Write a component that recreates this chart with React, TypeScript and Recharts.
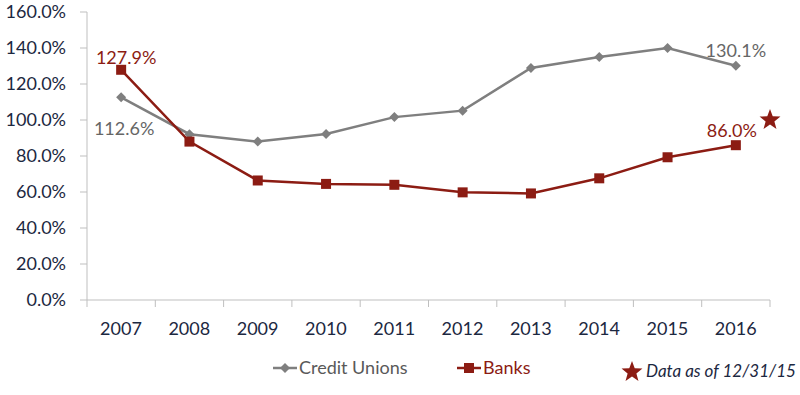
import { ComposedChart, Line, Scatter, XAxis, YAxis, LabelList } from 'recharts';

const years = [2007, 2008, 2009, 2010, 2011, 2012, 2013, 2014, 2015, 2016];
const creditUnions = [112.6, 92.1, 88.0, 92.2, 101.6, 105.2, 128.9, 135.0, 140.0, 130.1];
const banks = [127.9, 88.0, 66.4, 64.5, 64.0, 59.8, 59.2, 67.6, 79.3, 86.0];
const yTicks = [0, 20, 40, 60, 80, 100, 120, 140, 160];
// band edges for the x axis tick marks
const xEdges = [2006.5, 2007.5, 2008.5, 2009.5, 2010.5, 2011.5, 2012.5, 2013.5, 2014.5, 2015.5, 2016.5];
const starPoint = [{ year: 2016.5, value: 100 }];

const GRAY = '#7f7f7f';
const RED = '#8c1c13';
const NAVY = '#1c2841';
const FONT = 'Lato, "Open Sans", sans-serif';

const data = years.map((y, i) => ({ year: y, cu: creditUnions[i], banks: banks[i] }));

function starPath(cx: number, cy: number, r: number) {
  const pts: string[] = [];
  for (let i = 0; i < 10; i++) {
    const rad = i % 2 === 0 ? r : r * 0.42;
    const a = -Math.PI / 2 + (i * Math.PI) / 5;
    pts.push(`${cx + rad * Math.cos(a)},${cy + rad * Math.sin(a)}`);
  }
  return 'M' + pts.join('L') + 'Z';
}

const Diamond = (props: any) => {
  const { cx, cy } = props;
  if (cx == null) return null;
  return <path d={`M${cx},${cy - 5}L${cx + 5},${cy}L${cx},${cy + 5}L${cx - 5},${cy}Z`} fill={GRAY} />;
};

const Square = (props: any) => {
  const { cx, cy } = props;
  if (cx == null) return null;
  return <rect x={cx - 5} y={cy - 5} width={10} height={10} fill={RED} />;
};

const Star = (props: any) => {
  const { cx, cy } = props;
  return <path d={starPath(cx, cy, 11)} fill={RED} />;
};

// only first and last points are labelled
const makeLabel = (color: string, first: [number, number], last: [number, number]) => (props: any) => {
  const { x, y, index, value } = props;
  if (index !== 0 && index !== years.length - 1) return null;
  const [dx, dy] = index === 0 ? first : last;
  return (
    <text x={x + dx} y={y + dy} textAnchor="middle" fill={color} fontSize={18} fontFamily={FONT}>
      {Number(value).toFixed(1)}%
    </text>
  );
};

const XTick = (props: any) => {
  const { x, y, payload, index } = props;
  if (index === xEdges.length - 1) return null;
  return (
    <text x={x + 34} y={y} dy="0.71em" textAnchor="middle" fill={NAVY} fontSize={18} fontFamily={FONT}>
      {payload.value + 0.5}
    </text>
  );
};

export default function App() {
  return (
    <div style={{ position: 'absolute', left: 0, top: 0, width: 800, height: 395, background: '#fff' }}>
      <ComposedChart width={800} height={395} data={data} margin={{ top: 12, right: 30, left: 0, bottom: 0 }}>
        <XAxis
          dataKey="year"
          type="number"
          domain={[2006.5, 2016.5]}
          ticks={xEdges}
          height={95}
          stroke="#bfbfbf"
          tickSize={7}
          tickMargin={15}
          tick={<XTick />}
        />
        <YAxis
          domain={[0, 160]}
          ticks={yTicks}
          width={87}
          stroke="#bfbfbf"
          tickSize={7}
          tickMargin={14}
          tickFormatter={(v: number) => v.toFixed(1) + '%'}
          tick={{ fill: NAVY, fontSize: 18, fontFamily: FONT }}
        />
        <Line dataKey="cu" stroke={GRAY} strokeWidth={2.5} dot={<Diamond />} isAnimationActive={false}>
          <LabelList dataKey="cu" content={makeLabel('#666666', [3, 38], [0, -9])} />
        </Line>
        <Line dataKey="banks" stroke={RED} strokeWidth={2.5} dot={<Square />} isAnimationActive={false}>
          <LabelList dataKey="banks" content={makeLabel(RED, [5, -6], [-4, -8])} />
        </Line>
        <Scatter data={starPoint} dataKey="value" shape={<Star />} isAnimationActive={false} />
      </ComposedChart>
      <svg width={800} height={60} style={{ position: 'absolute', left: 0, top: 340 }}>
        <line x1={273} y1={28} x2={297} y2={28} stroke={GRAY} strokeWidth={2.5} />
        <Diamond cx={285} cy={28} />
        <text x={299} y={34} fill="#595959" fontSize={18} fontFamily={FONT}>Credit Unions</text>
        <line x1={457} y1={28} x2={481} y2={28} stroke={RED} strokeWidth={2.5} />
        <Square cx={469} cy={28} />
        <text x={483} y={34} fill={RED} fontSize={18} fontFamily={FONT}>Banks</text>
        <path d={starPath(632, 32, 11)} fill={RED} />
        <text x={646} y={37} fill={NAVY} fontSize={17} fontStyle="italic" fontFamily={FONT}>Data as of 12/31/15</text>
      </svg>
    </div>
  );
}
